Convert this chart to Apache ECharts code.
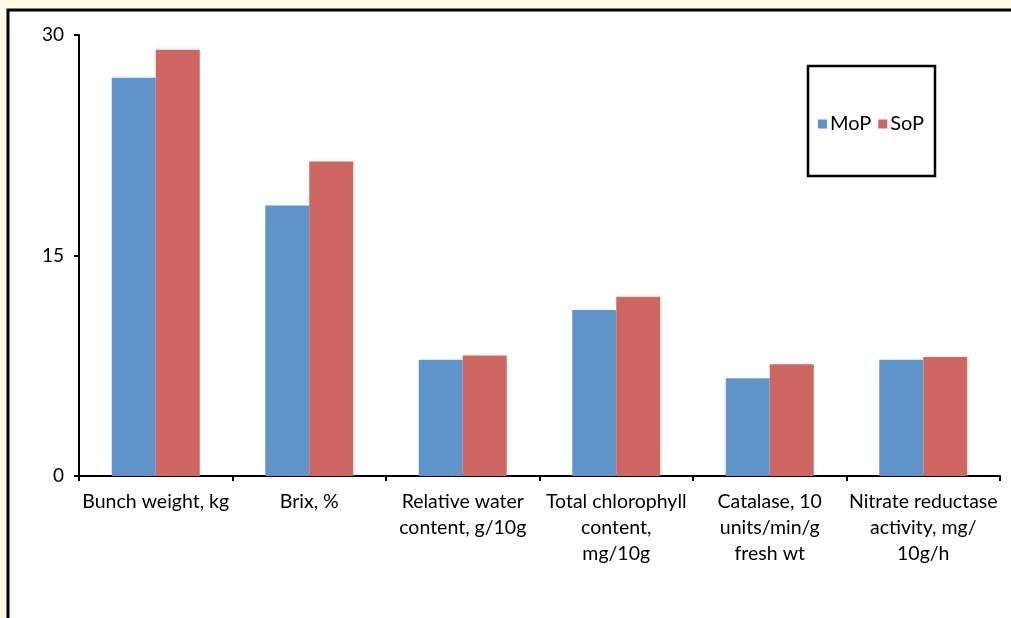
<!DOCTYPE html>
<html>
<head>
<meta charset="utf-8">
<script src="https://cdn.jsdelivr.net/npm/echarts@6/dist/echarts.min.js"></script>
<style>
html,body{margin:0;padding:0;background:#FFFAE6;}
#chart{width:1011px;height:618px;}
</style>
</head>
<body>
<div id="chart"></div>
<script>
const categories = [
  "Bunch weight, kg",
  "Brix, %",
  "Relative water\ncontent, g/10g",
  "Total chlorophyll\ncontent,\nmg/10g",
  "Catalase, 10\nunits/min/g\nfresh wt",
  "Nitrate reductase\nactivity, mg/\n10g/h"
];
const seriesNames = ["MoP", "SoP"];
const mopValues = [27.1, 18.4, 7.9, 11.3, 6.65, 7.9];
const sopValues = [29.0, 21.4, 8.2, 12.2, 7.6, 8.1];
const yTicks = { min: 0, max: 30, interval: 15 };

const FONT = "Lato";
const chart = echarts.init(document.getElementById('chart'));
chart.setOption({
  backgroundColor: '#FFFAE6',
  animation: false,
  textStyle: { fontFamily: FONT },
  graphic: [{
    type: 'rect',
    z: -10,
    silent: true,
    shape: { x: 8, y: 10, width: 1100, height: 700 },
    style: { fill: '#ffffff', stroke: '#000000', lineWidth: 3 }
  }, {
    type: 'rect',
    z: 5,
    silent: true,
    shape: { x: 808, y: 66, width: 127, height: 110 },
    style: { fill: '#ffffff', stroke: '#000000', lineWidth: 2.5 }
  }],
  legend: {
    data: seriesNames,
    left: 818,
    top: 114,
    z: 10,
    padding: 0,
    itemWidth: 9,
    itemHeight: 9,
    itemGap: 7,
    icon: 'rect',
    textStyle: { fontFamily: FONT, fontSize: 20, color: '#000', padding: [0, 0, 0, -2] }
  },
  grid: { left: 79, right: 11, top: 35, bottom: 142, containLabel: false },
  xAxis: {
    type: 'category',
    data: categories,
    axisLine: { lineStyle: { color: '#000', width: 2 } },
    axisTick: { show: true, length: 5, lineStyle: { color: '#000', width: 2 } },
    axisLabel: { color: '#000', fontFamily: FONT, fontSize: 19.5, lineHeight: 26, margin: 13, interval: 0, align: 'center' }
  },
  yAxis: {
    type: 'value',
    min: yTicks.min, max: yTicks.max, interval: yTicks.interval,
    axisLine: { show: true, lineStyle: { color: '#000', width: 2 } },
    axisTick: { show: true, length: 5, lineStyle: { color: '#000', width: 2 } },
    splitLine: { show: false },
    axisLabel: { color: '#000', fontFamily: FONT, fontSize: 19, margin: 15 }
  },
  series: [{
    name: seriesNames[0],
    type: 'bar',
    data: mopValues,
    barWidth: 44,
    barGap: '0%',
    itemStyle: { color: '#5E94C9' }
  }, {
    name: seriesNames[1],
    type: 'bar',
    data: sopValues,
    barWidth: 44,
    barGap: '0%',
    itemStyle: { color: '#CE6661' }
  }]
});
</script>
</body>
</html>
